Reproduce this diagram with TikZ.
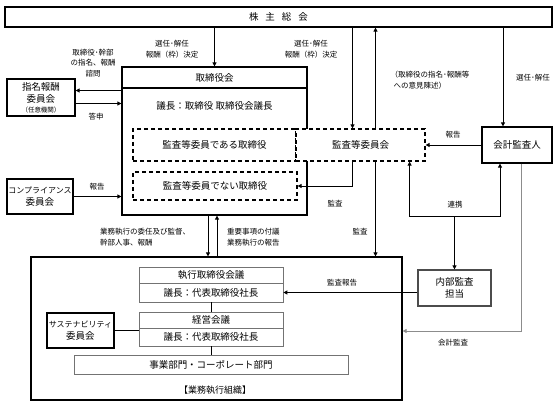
\documentclass[tikz,border=0pt]{standalone}
\usepackage{fontspec}
\setmainfont{Noto Sans CJK JP}
\usetikzlibrary{arrows.meta}
\newcommand\boxfont{\fontsize{9.5}{12}\selectfont}
\newcommand\katafont{\fontsize{8}{12}\selectfont}
\newcommand\lblfont{\fontsize{7.5}{10.5}\selectfont}

\begin{document}
\begin{tikzpicture}[x=1pt,y=-1pt,>={Triangle[length=4pt,width=4pt]},
  thickbox/.style={draw,line width=1.2pt,inner sep=0pt,align=center,font=\boxfont},
  thinbox/.style={draw=black!55,line width=0.7pt,inner sep=0pt,font=\boxfont},
  dashbox/.style={draw,dash pattern=on 4pt off 3pt,line width=1.2pt,fill=white,inner sep=0pt,font=\boxfont},
  conn/.style={line width=0.8pt},
  lbl/.style={font=\lblfont,align=center,inner sep=0pt}]
\useasboundingbox (0,0) rectangle (558,406);
% boxes
\node[thickbox,minimum width=547pt,minimum height=20pt] (sh) at (278.5,17) {株\hspace{7pt}主\hspace{7pt}総\hspace{7pt}会};
\node[thickbox,minimum width=185pt,minimum height=148pt] (bod) at (214.5,141) {};
\node[thickbox,anchor=north,minimum width=185pt,minimum height=21pt] (bodt) at (bod.north) {取締役会};
\node[font=\boxfont,inner sep=0pt] (bodc) at (214.5,106) {議長：取締役 取締役会議長};
\node[dashbox,minimum width=163pt,minimum height=32pt] (adir) at (214.5,145) {監査等委員である取締役};
\node[dashbox,minimum width=129pt,minimum height=32pt] (ac) at (360.5,145) {監査等委員会};
\node[dashbox,minimum width=164pt,minimum height=28pt] (ndir) at (215,186) {監査等委員でない取締役};
\node[thickbox,minimum width=68pt,minimum height=37pt] (nom) at (41,97.5) {指名報酬\\委員会\\[-2pt]{\fontsize{6.5}{7}\selectfont （任意機関）}};
\node[thickbox,font=\katafont,minimum width=66pt,minimum height=35pt] (comp) at (40,196.5) {コンプライアンス\\{\boxfont 委員会}};
\node[thickbox,minimum width=70pt,minimum height=36pt] (ca) at (517,145) {会計監査人};
\node[thickbox,draw=black!70,minimum width=73pt,minimum height=36pt] (ia) at (454.5,288) {内部監査\\担当};
% execution organisation
\node[thickbox,minimum width=371pt,minimum height=143pt] (org) at (216.5,328.5) {};
\node[inner sep=0pt,font=\fontsize{9}{11}\selectfont] (orgl) at (215,390) {【業務執行組織】};
\node[thinbox,minimum width=144pt,minimum height=16pt] (ec1) at (211,275) {執行取締役会議};
\node[thinbox,minimum width=144pt,minimum height=19pt] (ec2) at (211,292.5) {議長：代表取締役社長};
\node[thinbox,minimum width=144pt,minimum height=16pt] (mm1) at (211,320) {経営会議};
\node[thinbox,minimum width=144pt,minimum height=18pt] (mm2) at (211,337) {議長：代表取締役社長};
\node[thinbox,minimum width=274pt,minimum height=19pt] (biz) at (211,364.5) {事業部門・コーポレート部門};
\node[thickbox,font=\katafont,minimum width=67pt,minimum height=35pt] (sus) at (80.5,330.5) {サステナビリティ\\{\boxfont 委員会}};
% connectors
\coordinate (acd) at ([xshift=-8pt]ac.north);
\coordinate (acu) at ([xshift=15pt]ac.north);
\coordinate (acs) at ([xshift=15pt]ac.south);
\coordinate (acr) at ([xshift=-16pt]ac.south east);
\coordinate (cad) at ([xshift=-14pt]ca.north);
\coordinate (car) at ([xshift=-17pt]ca.south);
\coordinate (cag) at ([xshift=4pt]ca.south);
\coordinate (orgg) at ([yshift=-2.5pt]org.east);
\coordinate (nomA) at ([yshift=7pt]nom.east);
\coordinate (nomB) at ([yshift=-6pt]nom.east);
\coordinate (bdl) at ([xshift=-6.5pt]bod.south);
\coordinate (bdr) at ([xshift=2.5pt]bod.south);
\path (ia.north) ++(0,-53) coordinate (rj);
\draw[conn,->] (bod.north |- sh.south) -- (bod.north);
\draw[conn,->] (acd |- sh.south) -- (acd);
\draw[conn,->] (acu) -- (acu |- sh.south);
\draw[conn,->] (cad |- sh.south) -- (cad);
\draw[conn,->] (nomA -| bod.west) -- (nomA);
\draw[conn,->] (nomB) -- (nomB -| bod.west);
\draw[conn,->] (comp.east) -- (comp.east -| bod.west);
\draw[conn,->] ([xshift=-8pt]ac.south) |- (ndir.east);
\draw[conn,->] (acs) -- (acs |- org.north);
\draw[conn,->] (ca.west) -- (ac.east);
\draw[conn,<->] (acr) |- (rj) -| (car);
\draw[conn,->] (rj) -- (ia.north);
\draw[conn,->,black!45] (cag) |- (orgg);
\draw[conn,->] (bdl) -- (bdl |- org.north);
\draw[conn,->] (bdr |- org.north) -- (bdr);
\draw[conn,->] (ia.west |- ec2.east) -- (ec2.east);
\draw[conn] (ec2.south) -- (mm1.north);
\draw[conn] (mm2.south) -- (biz.north);
\draw[conn] (sus.east) -- (sus.east -| mm1.west);
% labels
\node[lbl] (l1) at (172,49) {選任･解任\\報酬（枠）決定};
\node[lbl] (l2) at (311,49) {選任･解任\\報酬（枠）決定};
\node[lbl] (l3) at (93,63) {取締役･幹部\\の指名、報酬\\諮問};
\node[lbl] (l4) at (96,117) {答申};
\node[lbl] (l5) at (97,187) {報告};
\node[lbl,align=left] (l6) at (430,80) {（取締役の指名･報酬等\\\hspace{3pt}への意見陳述）};
\node[lbl] (l7) at (533,78) {選任･解任};
\node[lbl] (l8) at (453,135) {報告};
\node[lbl] (l9) at (335,204) {監査};
\node[lbl] (l10) at (360,232) {監査};
\node[lbl] (l11) at (455,205) {連携};
\node[lbl,anchor=west,align=left] (l12) at (100,237) {業務執行の委任及び監督、\\幹部人事、報酬};
\node[lbl,anchor=west,align=left] (l13) at (227,237) {重要事項の付議\\業務執行の報告};
\node[lbl] (l14) at (342,283) {監査報告};
\node[lbl] (l15) at (453,343) {会計監査};
\end{tikzpicture}
\end{document}
